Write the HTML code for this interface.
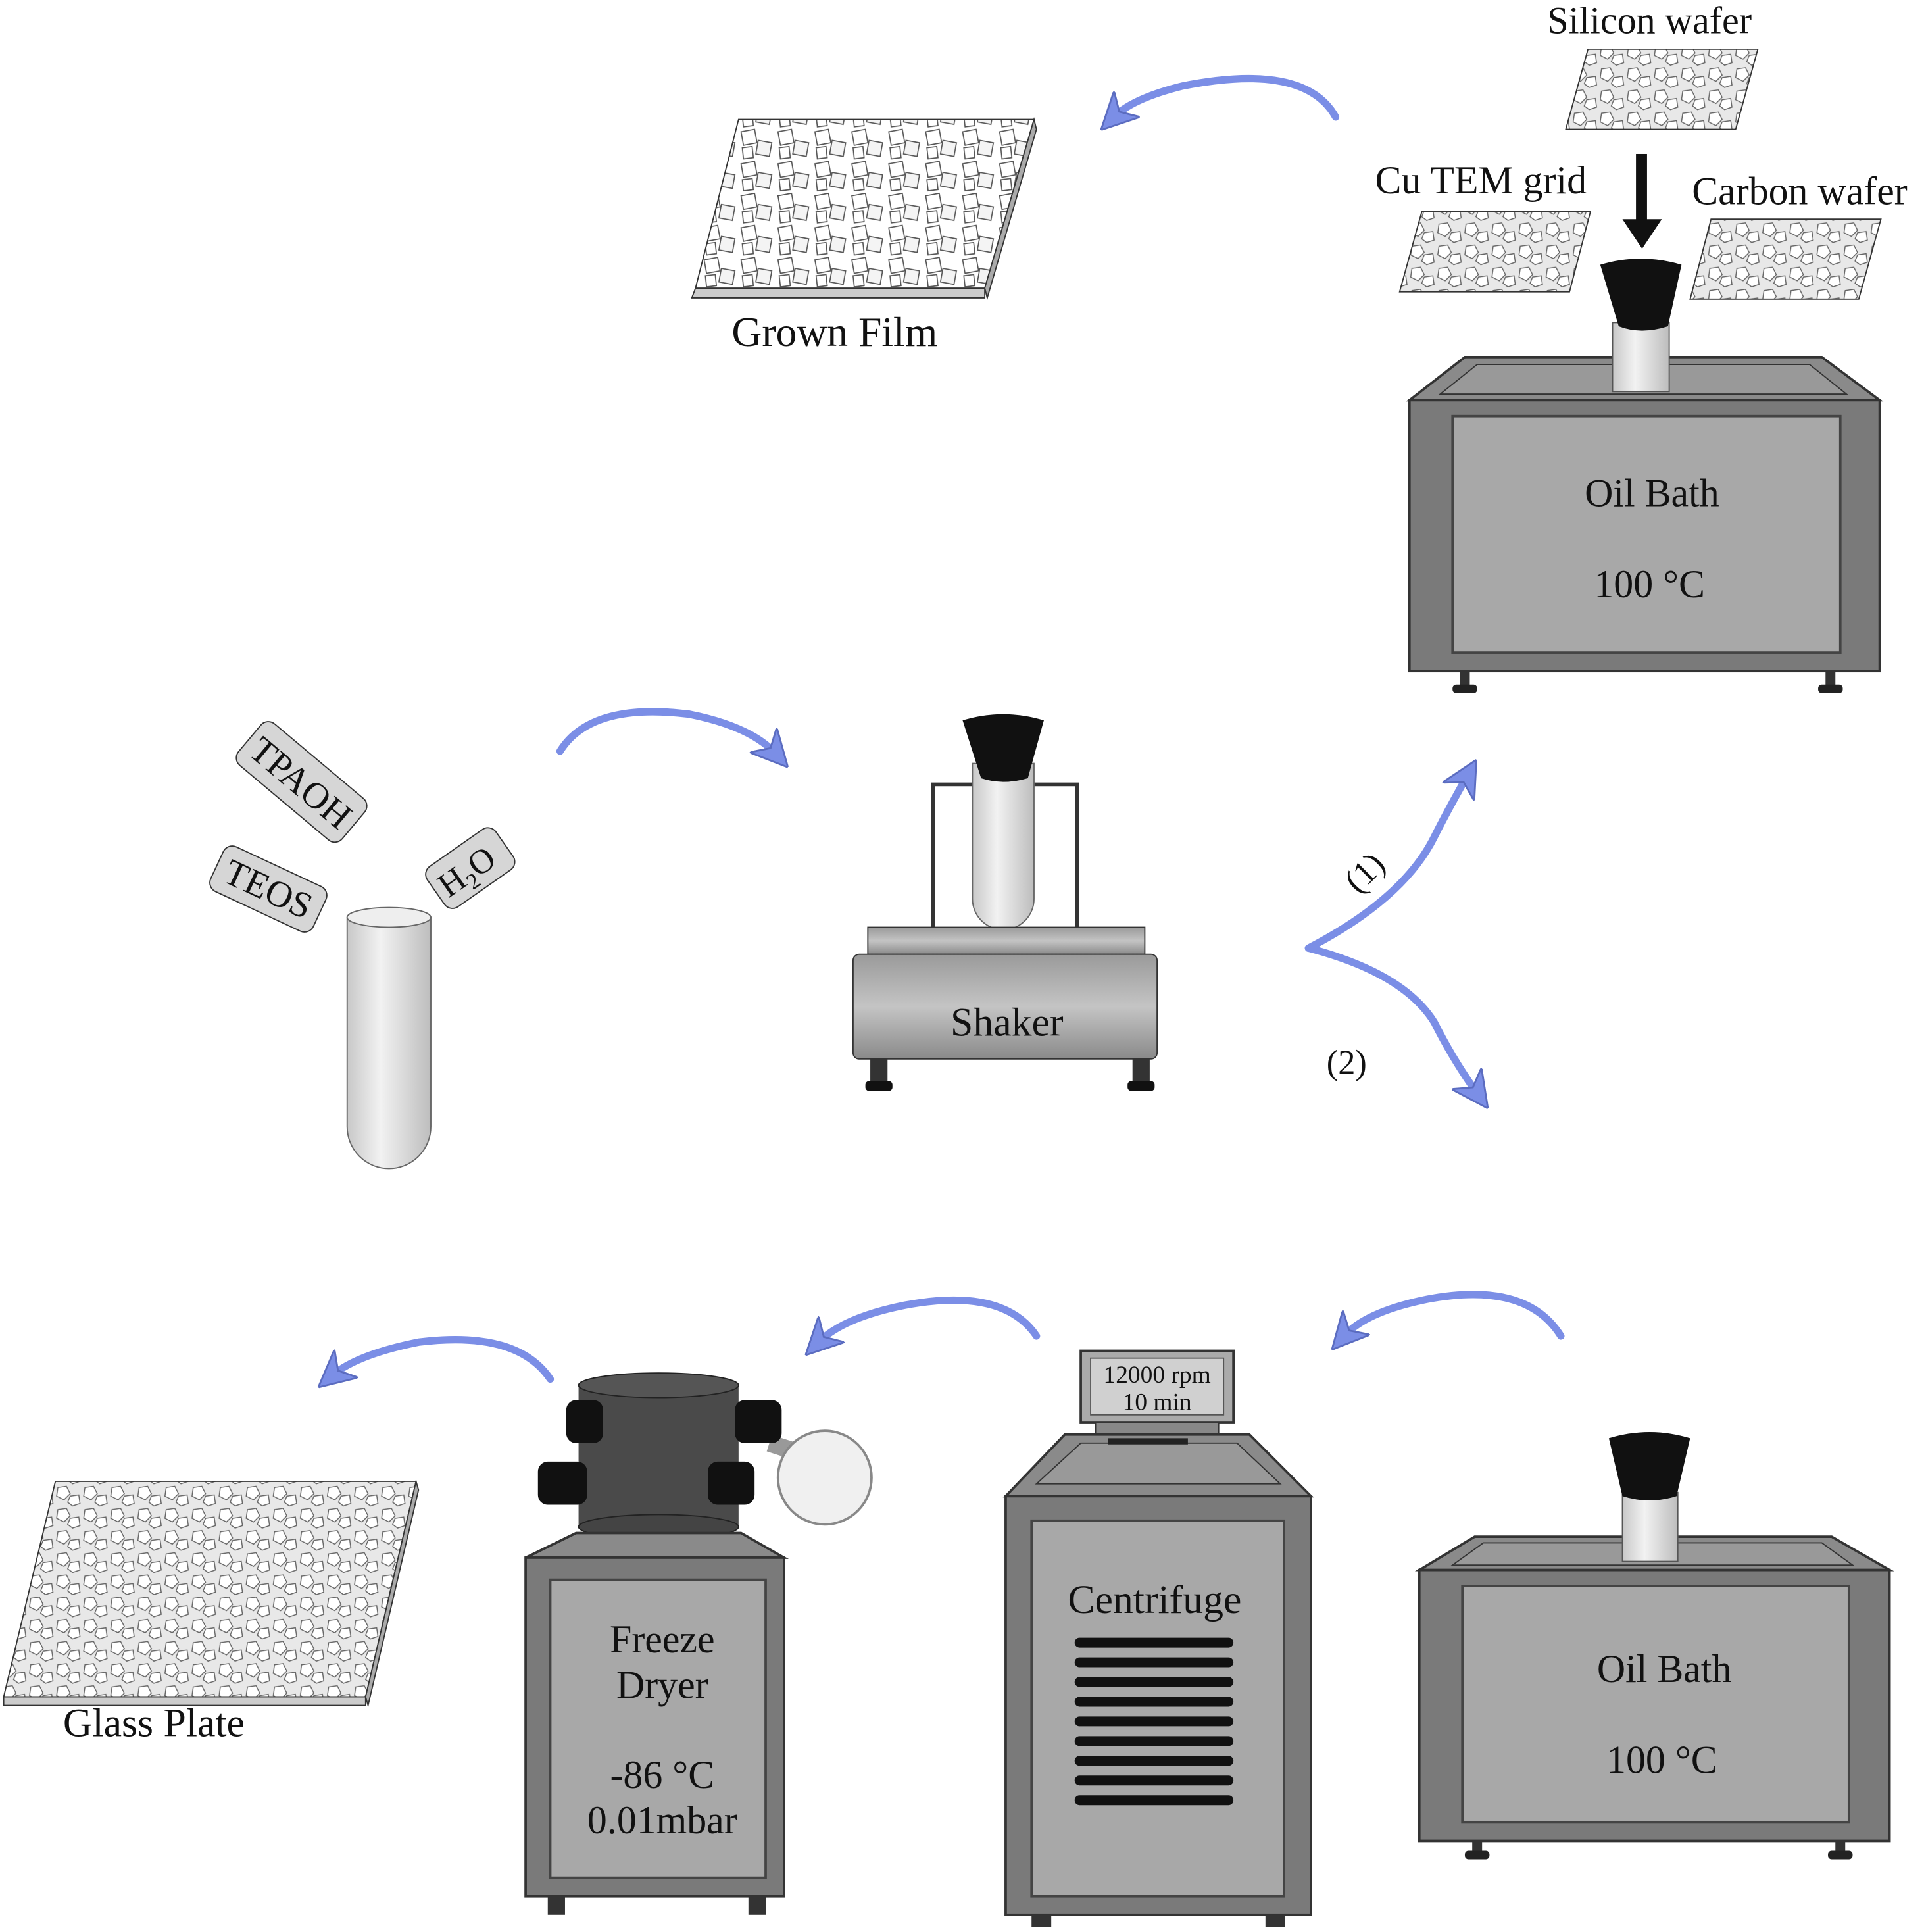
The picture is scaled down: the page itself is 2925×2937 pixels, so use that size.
<!DOCTYPE html>
<html><head><meta charset="utf-8"><style>html,body{margin:0;padding:0;background:#fff}svg{display:block}text{font-family:"Liberation Serif",serif;fill:#111}</style></head><body>
<svg width="2925" height="2937" viewBox="0 0 1563 1569" preserveAspectRatio="none" xmlns="http://www.w3.org/2000/svg">
<defs>
<pattern id="cells" width="22" height="18" patternUnits="userSpaceOnUse">
<rect width="22" height="18" fill="#e8e8e8"/>
<polygon points="3,2 10,1 13,7 8,12 2,9" fill="#fff" stroke="#666" stroke-width="0.8"/>
<polygon points="13,9 20,8 21,15 15,17 11,14" fill="#fff" stroke="#666" stroke-width="0.8"/>
</pattern>
<pattern id="cubes" width="30" height="26" patternUnits="userSpaceOnUse">
<rect width="30" height="26" fill="#fff"/>
<polygon points="2,3 13,1 15,12 4,14" fill="#fff" stroke="#555" stroke-width="0.9"/>
<polygon points="16,10 27,12 25,23 14,21" fill="#f4f4f4" stroke="#555" stroke-width="0.9"/>
<polygon points="3,16 11,15 12,24 4,25" fill="#fff" stroke="#555" stroke-width="0.9"/>
</pattern>
<linearGradient id="tube" x1="0" x2="1"><stop offset="0" stop-color="#c8c8c8"/><stop offset="0.4" stop-color="#f2f2f2"/><stop offset="1" stop-color="#bdbdbd"/></linearGradient>
<linearGradient id="metal" x1="0" y1="0" x2="0" y2="1"><stop offset="0" stop-color="#9a9a9a"/><stop offset="0.5" stop-color="#c4c4c4"/><stop offset="1" stop-color="#8a8a8a"/></linearGradient>
<marker id="ah" viewBox="0 0 10 10" refX="5" refY="5" markerWidth="5" markerHeight="5" orient="auto-start-reverse"><path d="M0,0 L10,5 L0,10 L3,5 z" fill="#7b8ee6" stroke="#5b6cc0" stroke-width="0.5"/></marker>
</defs>
<g fill="none" stroke="#7b8ee6" stroke-width="6" stroke-linecap="round">
<path d="M1085,95 Q1060,50 960,70 Q920,80 905,95" marker-end="url(#ah)"/>
<path d="M455,610 Q480,570 560,580 Q610,590 630,612" marker-end="url(#ah)"/>
<path d="M1268,1085 Q1240,1040 1160,1055 Q1110,1065 1092,1085" marker-end="url(#ah)"/>
<path d="M842,1085 Q815,1045 735,1060 Q685,1070 665,1090" marker-end="url(#ah)"/>
<path d="M447,1120 Q420,1080 340,1090 Q290,1100 270,1117" marker-end="url(#ah)"/>
<path d="M1063,770 Q1140,730 1165,680 Q1175,660 1192,630" marker-end="url(#ah)"/>
<path d="M1063,770 Q1140,790 1165,830 Q1180,860 1200,888" marker-end="url(#ah)"/>
</g>
<!-- Grown film -->
<polygon points="565,234 800,234 800,242 562,242" fill="#ccc" stroke="#333"/>
<polygon points="600,97 840,97 800,234 565,234" fill="url(#cubes)" stroke="#333"/>
<polygon points="840,97 842,105 802,242 800,234" fill="#aaa" stroke="#333"/>
<text x="678" y="281" font-size="34" text-anchor="middle">Grown Film</text>
<!-- wafers -->
<text x="1340" y="27" font-size="31" text-anchor="middle">Silicon wafer</text>
<polygon points="1290,40 1428,40 1410,105 1272,105" fill="url(#cells)" stroke="#333"/>
<rect x="1329" y="125" width="9" height="55" fill="#111"/><polygon points="1318,178 1350,178 1334,202" fill="#111"/>
<text x="1203" y="157" font-size="32" text-anchor="middle">Cu TEM grid</text>
<polygon points="1155,172 1292,172 1275,237 1137,237" fill="url(#cells)" stroke="#333"/>
<text x="1462" y="166" font-size="32" text-anchor="middle">Carbon wafer</text>
<polygon points="1390,178 1528,178 1510,243 1373,243" fill="url(#cells)" stroke="#333"/>
<!-- top oil bath -->
<polygon points="1190,290 1480,290 1527,325 1145,325" fill="#8a8a8a" stroke="#333" stroke-width="2"/>
<polygon points="1200,296 1470,296 1500,320 1170,320" fill="#999" stroke="#333"/>
<rect x="1310" y="262" width="46" height="56" fill="url(#tube)" stroke="#555"/>
<path d="M1300,215 Q1333,205 1366,215 L1355,265 Q1333,272 1315,265 Z" fill="#111"/>
<rect x="1145" y="325" width="382" height="220" fill="#7a7a7a" stroke="#333" stroke-width="2"/>
<rect x="1180" y="338" width="315" height="192" fill="#a8a8a8" stroke="#444" stroke-width="2"/>
<text x="1342" y="411" font-size="32" text-anchor="middle">Oil Bath</text>
<text x="1340" y="485" font-size="32" text-anchor="middle">100 °C</text>
<rect x="1186" y="545" width="8" height="12" fill="#333"/><rect x="1180" y="556" width="20" height="7" rx="3" fill="#222"/>
<rect x="1483" y="545" width="8" height="12" fill="#333"/><rect x="1477" y="556" width="20" height="7" rx="3" fill="#222"/>
<!-- cans -->
<g transform="translate(245,635) rotate(40)"><rect x="-55" y="-22" width="110" height="44" rx="8" fill="#d6d6d6" stroke="#333"/><text x="0" y="11" font-size="30" text-anchor="middle">TPAOH</text></g>
<g transform="translate(218,722) rotate(25)"><rect x="-46" y="-20" width="92" height="40" rx="8" fill="#d6d6d6" stroke="#333"/><text x="0" y="10" font-size="30" text-anchor="middle">TEOS</text></g>
<g transform="translate(382,705) rotate(-35)"><rect x="-34" y="-20" width="68" height="40" rx="8" fill="#d6d6d6" stroke="#333"/><text x="-4" y="10" font-size="28" text-anchor="middle">H<tspan font-size="18" dy="6">2</tspan><tspan dy="-6">O</tspan></text></g>
<path d="M282,745 L282,915 A34,34 0 0 0 350,915 L350,745 Z" fill="url(#tube)" stroke="#666"/>
<ellipse cx="316" cy="745" rx="34" ry="8" fill="#eee" stroke="#666"/>
<!-- shaker -->
<path d="M758,755 L758,637 L875,637 L875,755" fill="none" stroke="#333" stroke-width="3"/>
<path d="M790,620 L790,730 A25,25 0 0 0 840,730 L840,620 Z" fill="url(#tube)" stroke="#666"/>
<path d="M782,585 Q815,575 848,585 L835,632 Q815,638 797,632 Z" fill="#111"/>
<rect x="705" y="753" width="225" height="22" fill="url(#metal)" stroke="#333"/>
<rect x="693" y="775" width="247" height="85" rx="5" fill="url(#metal)" stroke="#333"/>
<text x="818" y="841" font-size="33" text-anchor="middle">Shaker</text>
<rect x="707" y="860" width="14" height="20" fill="#333"/><rect x="703" y="878" width="22" height="8" rx="3" fill="#111"/>
<rect x="920" y="860" width="14" height="20" fill="#333"/><rect x="916" y="878" width="22" height="8" rx="3" fill="#111"/>
<text x="1108" y="718" font-size="28" text-anchor="middle" transform="rotate(-45 1108 708)">(1)</text>
<text x="1094" y="872" font-size="28" text-anchor="middle">(2)</text>
<!-- bottom oil bath -->
<polygon points="1198,1248 1488,1248 1535,1275 1153,1275" fill="#8a8a8a" stroke="#333" stroke-width="2"/>
<polygon points="1205,1253 1480,1253 1505,1271 1180,1271" fill="#999" stroke="#333"/>
<rect x="1318" y="1212" width="45" height="56" fill="url(#tube)" stroke="#555"/>
<path d="M1307,1168 Q1340,1158 1373,1168 L1362,1215 Q1340,1222 1318,1215 Z" fill="#111"/>
<rect x="1153" y="1275" width="382" height="220" fill="#7a7a7a" stroke="#333" stroke-width="2"/>
<rect x="1188" y="1288" width="314" height="192" fill="#a8a8a8" stroke="#444" stroke-width="2"/>
<text x="1352" y="1366" font-size="32" text-anchor="middle">Oil Bath</text>
<text x="1350" y="1440" font-size="32" text-anchor="middle">100 °C</text>
<rect x="1196" y="1495" width="8" height="10" fill="#333"/><rect x="1190" y="1503" width="20" height="7" rx="3" fill="#222"/>
<rect x="1491" y="1495" width="8" height="10" fill="#333"/><rect x="1485" y="1503" width="20" height="7" rx="3" fill="#222"/>
<!-- centrifuge -->
<rect x="878" y="1097" width="124" height="58" fill="#aaa" stroke="#333" stroke-width="2"/>
<rect x="886" y="1103" width="108" height="46" fill="#d0d0d0" stroke="#555"/>
<text x="940" y="1123" font-size="20" text-anchor="middle">12000 rpm</text>
<text x="940" y="1145" font-size="20" text-anchor="middle">10 min</text>
<rect x="890" y="1155" width="100" height="10" fill="#888" stroke="#333"/>
<polygon points="865,1165 1015,1165 1065,1215 817,1215" fill="#8a8a8a" stroke="#333" stroke-width="2"/>
<polygon points="878,1172 1005,1172 1040,1205 842,1205" fill="#999" stroke="#333"/>
<rect x="900" y="1168" width="65" height="5" fill="#222"/>
<rect x="817" y="1215" width="248" height="340" fill="#7a7a7a" stroke="#333" stroke-width="2"/>
<rect x="838" y="1235" width="205" height="305" fill="#a8a8a8" stroke="#444" stroke-width="2"/>
<text x="938" y="1310" font-size="33" text-anchor="middle">Centrifuge</text>
<g fill="#111"><rect x="873" y="1330" width="129" height="8" rx="4"/><rect x="873" y="1346" width="129" height="8" rx="4"/><rect x="873" y="1362" width="129" height="8" rx="4"/><rect x="873" y="1378" width="129" height="8" rx="4"/><rect x="873" y="1394" width="129" height="8" rx="4"/><rect x="873" y="1410" width="129" height="8" rx="4"/><rect x="873" y="1426" width="129" height="8" rx="4"/><rect x="873" y="1442" width="129" height="8" rx="4"/><rect x="873" y="1458" width="129" height="8" rx="4"/></g>
<rect x="838" y="1555" width="16" height="10" fill="#333"/><rect x="1028" y="1555" width="16" height="10" fill="#333"/>
<!-- freeze dryer -->
<path d="M625,1172 L650,1180" stroke="#999" stroke-width="14"/>
<circle cx="670" cy="1200" r="38" fill="#f0f0f0" stroke="#888" stroke-width="2"/>
<rect x="470" y="1125" width="130" height="115" fill="#4a4a4a"/>
<ellipse cx="535" cy="1125" rx="65" ry="10" fill="#555" stroke="#222"/>
<ellipse cx="535" cy="1240" rx="65" ry="10" fill="#444" stroke="#222"/>
<rect x="460" y="1137" width="30" height="35" rx="8" fill="#111"/><rect x="597" y="1137" width="38" height="35" rx="8" fill="#111"/>
<rect x="437" y="1187" width="40" height="35" rx="8" fill="#111"/><rect x="575" y="1187" width="38" height="35" rx="8" fill="#111"/>
<polygon points="468,1245 602,1245 637,1265 427,1265" fill="#8a8a8a" stroke="#333" stroke-width="2"/>
<rect x="427" y="1265" width="210" height="275" fill="#7a7a7a" stroke="#333" stroke-width="2"/>
<rect x="447" y="1283" width="175" height="242" fill="#a8a8a8" stroke="#444" stroke-width="2"/>
<text x="538" y="1342" font-size="32" text-anchor="middle">Freeze</text>
<text x="538" y="1379" font-size="32" text-anchor="middle">Dryer</text>
<text x="538" y="1452" font-size="32" text-anchor="middle">-86 °C</text>
<text x="538" y="1489" font-size="32" text-anchor="middle">0.01mbar</text>
<rect x="445" y="1540" width="14" height="15" fill="#333"/><rect x="608" y="1540" width="14" height="15" fill="#333"/>
<!-- glass plate -->
<polygon points="3,1378 297,1378 297,1385 3,1385" fill="#ccc" stroke="#333"/>
<polygon points="45,1203 338,1203 297,1378 3,1378" fill="url(#cells)" stroke="#333"/>
<polygon points="338,1203 340,1210 299,1385 297,1378" fill="#aaa" stroke="#333"/>
<text x="125" y="1410" font-size="33" text-anchor="middle">Glass Plate</text>
</svg>
</body></html>
